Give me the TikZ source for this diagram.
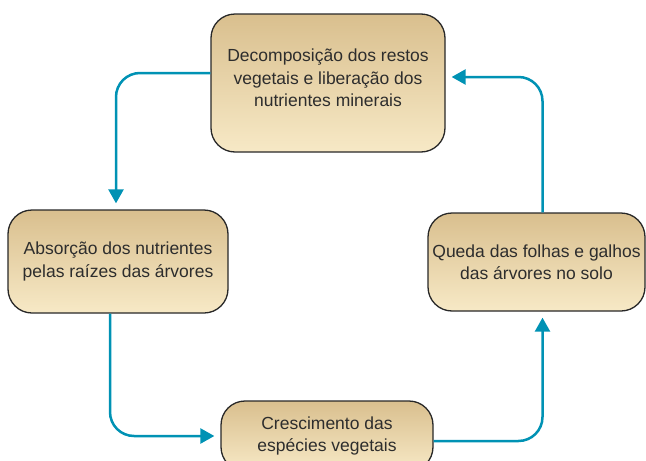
\documentclass[tikz,border=0pt]{standalone}
\usepackage{fontspec}
\setmainfont{Liberation Sans}
\usetikzlibrary{calc,arrows.meta,positioning}
\definecolor{cFlow}{RGB}{0,146,180}
\definecolor{cTop}{RGB}{217,191,142}
\definecolor{cMid}{RGB}{244,223,172}
\definecolor{cBot}{RGB}{247,233,198}
\definecolor{cEdge}{RGB}{40,40,40}
\definecolor{cText}{RGB}{45,45,45}
\tikzset{
  textStyle/.style={align=center, inner sep=1pt, text=cText,
    font=\fontsize{17.5}{22.5}\selectfont},
  boxStyle/.style={draw=cEdge, line width=1.3pt, rounded corners=24pt,
    top color=cTop, middle color=cMid, bottom color=cBot, textStyle},
  arrowStyle/.style={draw=cFlow, line width=2.5pt, rounded corners=24pt,
    -{Triangle[length=14pt,width=15pt]}, shorten >=6pt}
}
\begin{document}
\begin{tikzpicture}[x=1pt,y=-1pt]
\useasboundingbox (0,0) rectangle (646,461);
%caixas
\node[boxStyle, minimum width=234pt, minimum height=138pt,
  label={[textStyle, yshift=5pt]center:Decomposição dos restos\\vegetais e liberação dos\\nutrientes minerais}]
  (nDecomp) at (328,83) {};
\node[boxStyle, minimum width=220pt, minimum height=103pt] (nAbsorc) at (118,261.5)
  {Absorção dos nutrientes\\pelas raízes das árvores};
\node[boxStyle, minimum width=212pt, minimum height=70pt] (nCresc) at (327,436)
  {Crescimento das\\espécies vegetais};
\node[boxStyle, minimum width=217pt, minimum height=98pt] (nQueda) at (536.5,262)
  {Queda das folhas e galhos\\das árvores no solo};
%setas
\draw[arrowStyle] ([yshift=10pt]nDecomp.west) -| ([xshift=-2pt]nAbsorc.north);
\draw[arrowStyle] ([xshift=-8pt]nAbsorc.south) |- (nCresc.west);
\draw[arrowStyle] ([yshift=-5pt]nCresc.east) -| ([xshift=6pt]nQueda.south);
\draw[arrowStyle] ([xshift=6pt]nQueda.north) |- ([yshift=6pt]nDecomp.east);
\end{tikzpicture}
\end{document}
